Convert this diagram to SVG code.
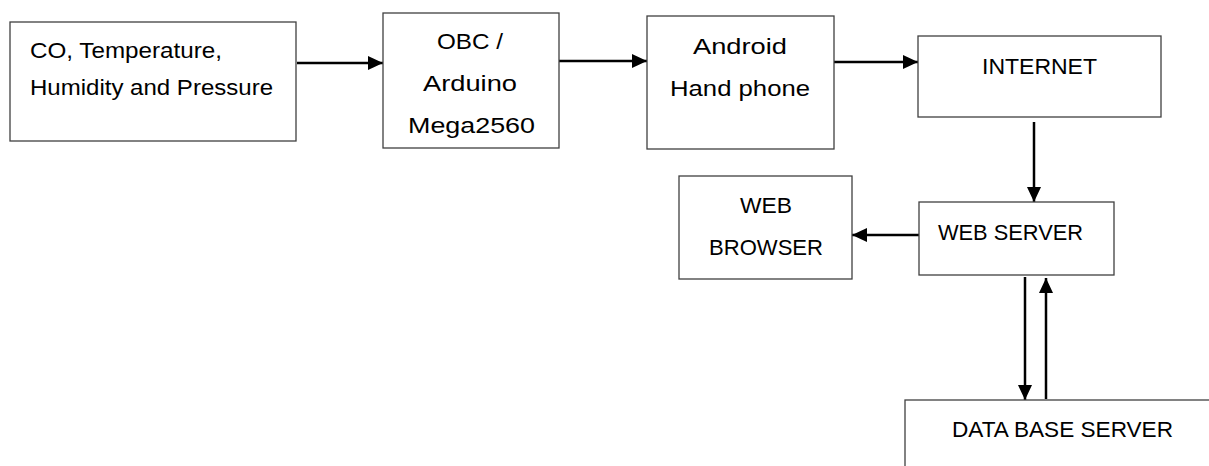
<svg xmlns="http://www.w3.org/2000/svg" width="1209" height="466" viewBox="0 0 1209 466">
<style>
.box{fill:#fff;stroke:#404040;stroke-width:1.3}
.t{font-family:"Liberation Sans",Arial,sans-serif;font-size:22.5px;fill:#000}
.c{stroke:#000;stroke-width:2.5;fill:none}
</style>
<defs>
<marker id="ah" markerUnits="userSpaceOnUse" markerWidth="15" markerHeight="16" viewBox="0 0 15 16" refX="15" refY="8" orient="auto">
<path d="M0,1 L15,8 L0,15 Z" fill="#000"/>
</marker>
</defs>
<rect width="1209" height="466" fill="#fff"/>
<g id="connectors">
<line class="c" x1="297" y1="63" x2="383" y2="63" marker-end="url(#ah)"/>
<line class="c" x1="559" y1="61" x2="647" y2="61" marker-end="url(#ah)"/>
<line class="c" x1="834" y1="62" x2="918" y2="62" marker-end="url(#ah)"/>
<line class="c" x1="1034" y1="122" x2="1034" y2="202" marker-end="url(#ah)"/>
<line class="c" x1="919" y1="235" x2="852" y2="235" marker-end="url(#ah)"/>
<line class="c" x1="1025" y1="277" x2="1025" y2="400" marker-end="url(#ah)"/>
<line class="c" x1="1046" y1="399" x2="1046" y2="278" marker-end="url(#ah)"/>
</g>
<g id="sensors">
<rect class="box" x="10" y="22" width="286" height="119"/>
<text class="t" x="30" y="58" textLength="192" lengthAdjust="spacingAndGlyphs">CO, Temperature,</text>
<text class="t" x="30" y="95" textLength="243" lengthAdjust="spacingAndGlyphs">Humidity and Pressure</text>
</g>
<g id="obc">
<rect class="box" x="383" y="13" width="176" height="135"/>
<text class="t" x="437" y="49" textLength="66" lengthAdjust="spacingAndGlyphs">OBC /</text>
<text class="t" x="423" y="91" textLength="94" lengthAdjust="spacingAndGlyphs">Arduino</text>
<text class="t" x="408" y="133" textLength="127" lengthAdjust="spacingAndGlyphs">Mega2560</text>
</g>
<g id="android">
<rect class="box" x="647" y="16" width="187" height="133"/>
<text class="t" x="693" y="54" textLength="94" lengthAdjust="spacingAndGlyphs">Android</text>
<text class="t" x="670" y="96" textLength="140" lengthAdjust="spacingAndGlyphs">Hand phone</text>
</g>
<g id="internet">
<rect class="box" x="918" y="36" width="243" height="81"/>
<text class="t" x="982" y="74" textLength="115" lengthAdjust="spacingAndGlyphs">INTERNET</text>
</g>
<g id="web-browser">
<rect class="box" x="679" y="176" width="173" height="103"/>
<text class="t" x="740" y="213" textLength="52" lengthAdjust="spacingAndGlyphs">WEB</text>
<text class="t" x="709" y="255" textLength="114" lengthAdjust="spacingAndGlyphs">BROWSER</text>
</g>
<g id="web-server">
<rect class="box" x="919" y="202" width="195" height="73"/>
<text class="t" x="938" y="240" textLength="145" lengthAdjust="spacingAndGlyphs">WEB SERVER</text>
</g>
<g id="database-server">
<rect class="box" x="905" y="400" width="340" height="100"/>
<text class="t" x="952" y="437" textLength="221" lengthAdjust="spacingAndGlyphs">DATA BASE SERVER</text>
</g>
</svg>
